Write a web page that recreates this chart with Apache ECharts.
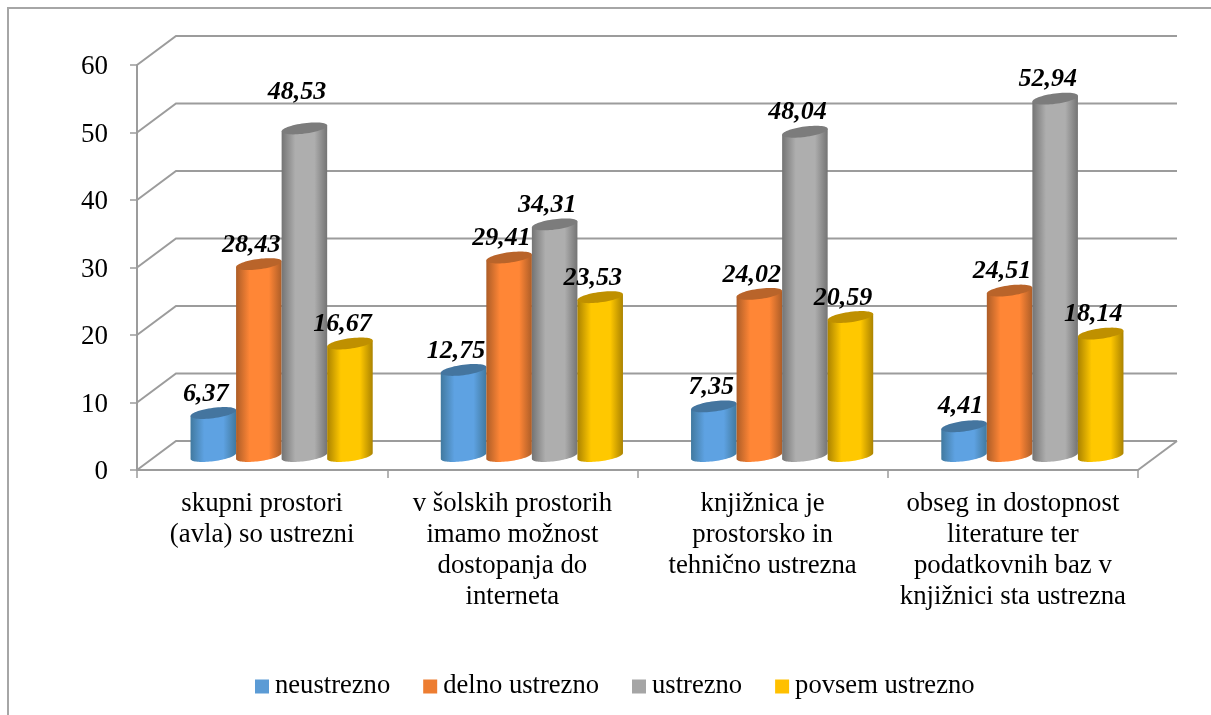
<!DOCTYPE html>
<html><head><meta charset="utf-8">
<style>html,body{margin:0;padding:0;background:#fff}#c{width:1211px;height:715px}</style>
<script src="https://cdn.jsdelivr.net/npm/echarts@6/dist/echarts.min.js"></script>
</head><body><div id="c"></div>
<script>
const categories = [
  'skupni prostori\n(avla) so ustrezni',
  'v šolskih prostorih\nimamo možnost\ndostopanja do\ninterneta',
  'knjižnica je\nprostorsko in\ntehnično ustrezna',
  'obseg in dostopnost\nliterature ter\npodatkovnih baz v\nknjižnici sta ustrezna'
];
const neustrezno = [6.37, 12.75, 7.35, 4.41];
const delnoUstrezno = [28.43, 29.41, 24.02, 24.51];
const ustrezno = [48.53, 34.31, 48.04, 52.94];
const povsemUstrezno = [16.67, 23.53, 20.59, 18.14];
const seriesNames = ['neustrezno', 'delno ustrezno', 'ustrezno', 'povsem ustrezno'];
const yTicks = [0, 10, 20, 30, 40, 50, 60];

const FONT = '"Liberation Serif","Times New Roman",serif';
const GRID = '#9c9c9c';
const palettes = [
  {flat:'#5b9bd5', edge:'#41799f', mid:'#5ea2e2', top:'#44759f'},
  {flat:'#ed7d31', edge:'#ad5d27', mid:'#ff8636', top:'#b9642a'},
  {flat:'#a5a5a5', edge:'#747474', mid:'#aeaeae', top:'#7c7c7c'},
  {flat:'#ffc000', edge:'#ab8300', mid:'#ffc800', top:'#bf9000'}
];
const DEPTH_X = 39, DEPTH_Y = 29;       // 3D wall offset
const BAR_DX = 19.5, BAR_DY = 14;       // bars sit inside the floor depth
const BAR_SHARE = 0.182;
const TILT = 2.9, RY = 5.2;             // ellipse look
// label nudges keyed "category,series"
const labelNudge = {'0,2': [0, -17], '2,0': [5, 0], '3,0': [4, -1]};

function ellipse(cx, cy, rx, from, to, n) {
  const pts = [];
  for (let i = 0; i <= n; i++) {
    const t = from + (to - from) * i / n;
    const ex = Math.cos(t) * rx, ey = Math.sin(t) * RY;
    pts.push([cx + ex, cy + ey - ex / rx * TILT]);
  }
  return pts;
}
function cylinder(sIdx) {
  const p = palettes[sIdx];
  return function (params, api) {
    const band = api.size([1, 0])[0];
    const w = band * BAR_SHARE;
    const cat = api.value(0);
    const base = api.coord([cat, 0]);
    const top = api.coord([cat, api.value(1)]);
    const cx = base[0] + BAR_DX + (sIdx - 1.5) * w;
    const yb = base[1] - BAR_DY, yt = top[1] - BAR_DY;
    const rx = w / 2;
    const nudge = labelNudge[cat + ',' + sIdx] || [0, 0];
    return {
      type: 'group',
      children: [
        {type: 'polygon', shape: {points: ellipse(cx, yb, rx, 0, Math.PI, 40).concat([[cx - rx, yt + TILT], [cx + rx, yt - TILT]])},
          style: {fill: new echarts.graphic.LinearGradient(0, 0, 1, 0, [
            {offset: 0, color: p.edge}, {offset: .3, color: p.mid},
            {offset: .72, color: p.mid}, {offset: 1, color: p.edge}])}},
        {type: 'polygon', shape: {points: ellipse(cx, yt, rx, 0, Math.PI * 2, 60)}, style: {fill: p.top}},
        {type: 'text', x: cx - 7.5 + nudge[0], y: yt - 19 + nudge[1],
          style: {text: api.value(1).toFixed(2).replace('.', ','), font: 'italic bold 26px ' + FONT,
            fill: '#000', align: 'center', verticalAlign: 'middle'}}
      ]
    };
  };
}
const wallSeries = {
  type: 'custom', silent: true, z: 1, legendHoverLink: false,
  data: yTicks.map(v => [0, v]),
  encode: {x: 0, y: 1},
  renderItem(params, api) {
    const r = params.coordSys;
    const y = api.coord([0, api.value(1)])[1];
    const style = {stroke: GRID, lineWidth: 2, fill: null};
    const kids = [
      {type: 'polyline', shape: {points: [[r.x, y], [r.x + DEPTH_X, y - DEPTH_Y], [r.x + r.width + DEPTH_X, y - DEPTH_Y]]}, style}
    ];
    if (api.value(1) === 0) {
      kids.push({type: 'line', shape: {x1: r.x + r.width, y1: y, x2: r.x + r.width + DEPTH_X, y2: y - DEPTH_Y}, style});
    }
    return {type: 'group', children: kids};
  }
};
const valueSets = [neustrezno, delnoUstrezno, ustrezno, povsemUstrezno];
const chart = echarts.init(document.getElementById('c'), null, {renderer: 'canvas'});
chart.setOption({
  animation: false,
  backgroundColor: '#fff',
  graphic: [
    {type: 'polyline', silent: true, shape: {points: [[8, 715], [8, 8], [1211, 8]]}, style: {stroke: '#a6a6a6', lineWidth: 2, fill: null}}
  ],
  grid: {left: 137, top: 65, width: 1001, height: 405, containLabel: false},
  legend: {
    left: 250, top: 668, icon: 'rect', itemWidth: 14, itemHeight: 14, itemGap: 33,
    textStyle: {fontFamily: FONT, fontSize: 26.6, color: '#000', padding: [0, 0, 0, 1]},
    data: seriesNames
  },
  xAxis: {
    type: 'category', data: categories,
    axisLine: {lineStyle: {color: GRID, width: 2}},
    axisTick: {show: true, length: 8, lineStyle: {color: GRID, width: 1.5}},
    axisLabel: {fontFamily: FONT, fontSize: 26.8, color: '#000', lineHeight: 31, margin: 18, interval: 0}
  },
  yAxis: {
    type: 'value', min: 0, max: 60, interval: 10,
    axisLine: {show: true, lineStyle: {color: GRID, width: 2}},
    axisTick: {show: true, length: 7, lineStyle: {color: GRID, width: 1.5}},
    axisLabel: {fontFamily: FONT, fontSize: 27, color: '#000', margin: 29, verticalAlign: 'top', lineHeight: 4},
    splitLine: {show: false}
  },
  series: [wallSeries].concat(valueSets.map((vals, i) => ({
    type: 'custom', name: seriesNames[i], z: 2 + i,
    itemStyle: {color: palettes[i].flat},
    data: vals.map((v, k) => [k, v]),
    encode: {x: 0, y: 1},
    renderItem: cylinder(i)
  })))
});
</script></body></html>
